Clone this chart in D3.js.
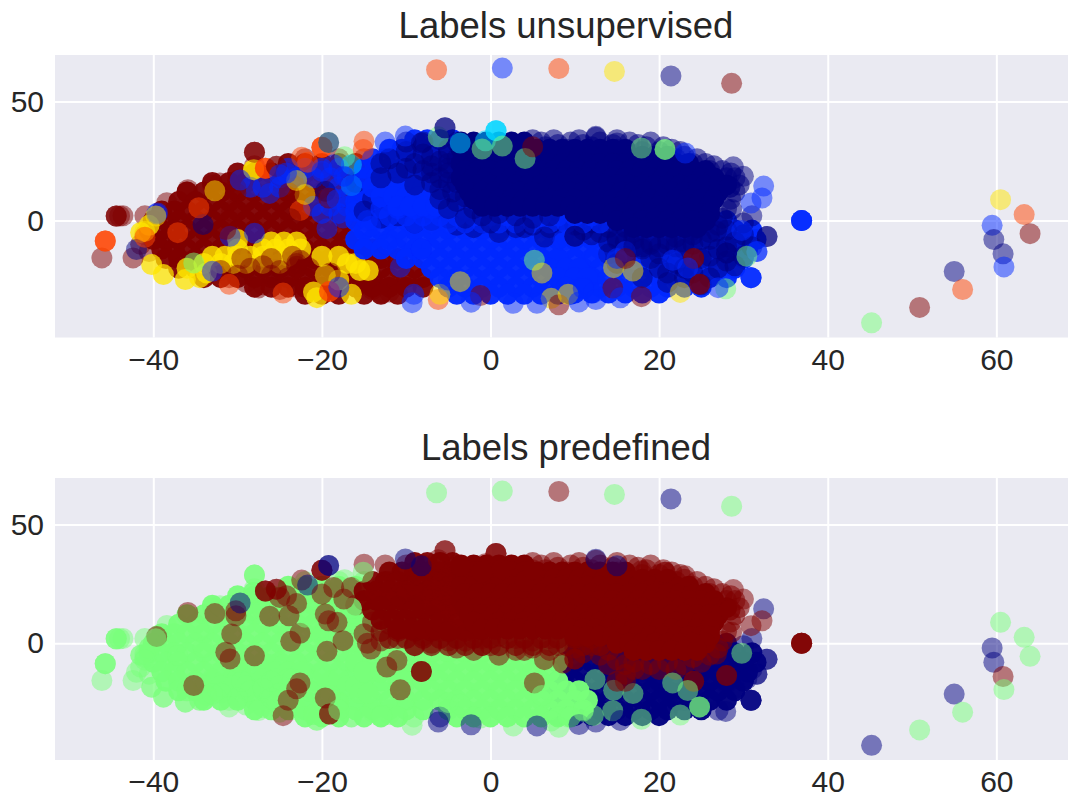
<!DOCTYPE html>
<html>
<head>
<meta charset="utf-8">
<script src="https://cdn.jsdelivr.net/npm/d3@7"></script>
<style>
body { margin: 0; background: #fff; }
text { font-family: "Liberation Sans", Arial, sans-serif; fill: #262626; }
</style>
</head>
<body>
<div id="chart"></div>
<script>
const xTicks = [-40, -20, 0, 20, 40, 60];
const yTicks = [0, 50];
const panelTitles = ["Labels unsupervised", "Labels predefined"];

// navy, blue, cyan, mint, yellow, red, maroon
const labelColors = ["#00007f", "#0028ff", "#00d5ff", "#78ff7a", "#ffe500", "#ff4400", "#7f0000"];

// rows of [y, [x, x, ...]], dense parts of the clouds
const maroonRows = [
    [24, [-24, -22, -20, -18, -16]],
    [20, [-30, -28, -26, -24, -22, -20, -18, -16]],
    [16, [-33, -31, -29, -27, -25, -23, -21, -19, -17, -15]],
    [12, [-36, -34, -32, -30, -28, -26, -24, -22, -20, -18, -16]],
    [8, [-37, -35, -33, -31, -29, -27, -25, -23, -21, -19, -17]],
    [4, [-39, -37.5, -36, -34, -32, -30, -28, -26, -24, -22, -20, -18]],
    [0, [-40, -38.5, -37, -35, -33, -31, -29, -27, -25, -23, -21, -19, -17]],
    [-4, [-40.5, -39, -37.5, -36, -34, -32, -30, -28, -26, -24, -22, -20, -18]],
    [-8, [-40, -38.5, -37, -35, -33, -31, -29, -27, -25, -23, -21, -19, -17]],
    [-12, [-39, -37.5, -36, -34, -32, -30, -28, -26, -24, -22, -20, -18, -16, -14]],
    [-16, [-38.5, -37, -35, -33, -31, -29, -27, -25, -23, -21, -19, -17, -15, -13, -11]],
    [-20, [-37, -35, -33, -31, -29, -27, -25, -23, -21, -19, -17, -15, -13, -11, -9]],
    [-24, [-34, -32, -30, -28, -26, -24, -22, -20, -18, -16, -14, -12, -10, -8]],
    [-28, [-28, -26, -24, -22, -20, -18, -16, -14, -12, -10, -8]],
    [-31, [-22, -20, -18, -15, -13, -11]]
];
const yellowRows = [
    [-9, [-26, -24.5, -23]],
    [-12, [-30, -27, -25.5, -24, -22.5]],
    [-15, [-33, -31.5, -30, -28.5, -27, -25.5, -24, -20, -18]],
    [-18, [-34, -32, -30.5, -29, -27, -25, -17, -16]],
    [-21, [-15.5, -14.5]]
];
const yellowEdge = [
    [-40.2, -18.5], [-38.8, -22.7], [-36.2, -24.8], [-33.7, -22], [-41.5, -5], [-40.5, -2], [-36, -20], [-34.5, -24],
    [-28.1, 21.4], [-20.6, -32.4], [-16.5, -31], [-21, -30], [-18, -25], [-30, -8]
];
// brown patches over the yellow strip
const yellowOverlay = [
    [-28.5, -20], [-27, -19], [-26, -23], [-25, -21], [-23, -18], [-23.5, -15], [-30, -23], [-32, -21], [-21.5, -20],
    [-19, -22], [-26, -16], [-29.5, -16]
];
const upperBlueRows = [
    [22, [-24, -22, -20, -18]],
    [18, [-25, -23, -21, -19, -17]],
    [14, [-28.5, -27, -25, -18, -16]],
    [10, [-19, -17]],
    [6, [-21, -19, -17]],
    [3, [-20, -18]]
];
const midRightRows = [
    [0, [10, 13, 16, 19, 22, 25, 28]],
    [-4, [9, 11, 13, 15, 17, 19, 21, 23, 25, 27, 29, 31]],
    [-8, [8, 10, 12, 14, 16, 18, 20, 22, 24, 26, 28, 30, 31.5]],
    [-12, [9, 11, 13, 15, 17, 19, 21, 23, 25, 27, 29, 30.5]],
    [-16, [8, 10, 12, 14, 16, 18, 20, 22, 24, 26, 28, 30]],
    [-20, [7, 9, 11, 13, 15, 17, 19, 21, 23, 25, 27, 29]],
    [-24, [8, 10, 12, 14, 16, 18, 20, 22, 24, 26, 28]],
    [-28, [9, 11, 13, 15, 17, 19, 21, 23, 25]],
    [-30.5, [8, 10, 12, 14, 16, 18, 20]]
];
const midLeftRows = [
    [16, [-13, -11, -9]],
    [12, [-15, -13, -11, -9, -7]],
    [8, [-16, -14, -12, -10, -8, -6]],
    [4, [-16, -14.5, -13, -11, -9, -7, -5, -3]],
    [0, [-16, -14, -12, -10, -8, -6, -4, -2, 0, 2, 4, 6, 8]],
    [-4, [-15, -13, -11, -9, -7, -5, -3, -1, 1, 3, 5, 7]],
    [-8, [-16, -14, -12, -10, -8, -6, -4, -2, 0, 2, 4, 6, 8]],
    [-12, [-15, -13, -11, -9, -7, -5, -3, -1, 1, 3, 5, 7]],
    [-16, [-10, -8, -6, -4, -2, 0, 2, 4, 6, 8]],
    [-20, [-7, -5, -3, -1, 1, 3, 5, 7, 9, 10.5]],
    [-24, [-6, -4, -2, 0, 2, 4, 6, 8, 10, 11.5]],
    [-28, [-5, -3, -1, 1, 3, 5, 7, 9, 11]],
    [-31, [-4, -2, 0, 2, 4, 6, 8, 9.5]]
];
const bandLeftRows = [
    [34, [-9, -7.5, -6, -4.5]],
    [30, [-12, -10.5, -9, -7.5, -6, -4.5]],
    [26, [-14, -12.5, -11, -9.5, -8, -6, -4.5]],
    [22, [-15, -13.5, -12, -10.5, -9, -7.5, -6, -4.5]],
    [18, [-15, -13.5, -12, -10.5, -9, -7.5, -6, -4.5]],
    [14, [-14, -12.5, -11, -9.5, -8, -6.5, -5]],
    [10, [-13, -11.5, -10, -8.5, -7, -5.5, -4]],
    [6, [-11, -9.5, -8, -6.5, -5, -3.5, -2]]
];
const bandMainRows = [
    [33, [-3.5, -2, -0.5, 1, 2.5, 4]],
    [30, [-3.5, -2, -0.5, 1, 2.5, 4, 5.5, 7, 8.5, 10, 11.5, 13, 14.5, 16]],
    [27, [-3, -1.5, 0, 1.5, 3, 4.5, 6, 7.5, 9, 10.5, 12, 13.5, 15, 16.5, 18, 19.5, 21]],
    [24, [-3.5, -2, -0.5, 1, 2.5, 4, 5.5, 7, 8.5, 10, 11.5, 13, 14.5, 16, 17.5, 19, 20.5, 22, 23.5]],
    [21, [-3, -1.5, 0, 1.5, 3, 4.5, 6, 7.5, 9, 10.5, 12, 13.5, 15, 16.5, 18, 19.5, 21, 22.5, 24, 25.5]],
    [18, [-3.5, -2, -0.5, 1, 2.5, 4, 5.5, 7, 8.5, 10, 11.5, 13, 14.5, 16, 17.5, 19, 20.5, 22, 23.5, 25, 26.5]],
    [15, [-3, -1.5, 0, 1.5, 3, 4.5, 6, 7.5, 9, 10.5, 12, 13.5, 15, 16.5, 18, 19.5, 21, 22.5, 24, 25.5, 27, 28]],
    [12, [-2.5, -1, 0.5, 2, 3.5, 5, 6.5, 8, 9.5, 11, 12.5, 14, 15.5, 17, 18.5, 20, 21.5, 23, 24.5, 26, 27]],
    [9, [-2, -0.5, 1, 2.5, 4, 5.5, 7, 8.5, 10, 11.5, 13, 14.5, 16, 17.5, 19, 20.5, 22, 23.5, 25, 26.5]],
    [6, [-1, 0.5, 2, 3.5, 5, 6.5, 8, 9.5, 11, 12.5, 14, 15.5, 17, 18.5, 20, 21.5, 23, 24.5, 26]],
    [3, [10, 11.5, 13, 14.5, 16, 17.5, 19, 20.5, 22, 23.5, 25, 26]],
    [0, [15, 16.5, 18, 19.5, 21, 22.5, 24, 25.5]],
    [-3, [17, 18.5, 20, 21.5, 23, 24.5]]
];
const bandTopEdge = [
    [5, 34], [6, 33], [7.5, 34], [8, 32], [9.5, 33], [10.5, 34], [11, 32], [12.5, 35], [13, 33], [14.5, 32], [15, 34], [16.5, 33],
    [17.5, 32], [18.5, 31], [19, 33], [20.5, 31], [21.5, 30], [22.5, 29], [23, 27], [24.5, 26], [25.5, 24], [26.5, 23],
    [27.5, 21], [28.5, 20], [29, 18], [29.5, 15], [29, 12], [28.5, 9], [28, 5], [27.5, 1], [27, -2],
    [6.5, 31], [9, 30], [12, 31], [15, 30], [18, 29], [20, 29], [22, 26], [24, 24], [26, 21], [28, 18]
];
const bandLowerRows = [
    [5, [-13, -11, -9, -7, -5, -3]],
    [2, [-12, -10, -8, -6, -4, -2, 0, 2, 4, 6, 8, 10, 12]],
    [-1, [-9, -7, -5, -3, -1, 1, 3, 5, 7, 9, 11, 13]]
];

// single see-through circles, [x, y]
const midRightNavy = [
    [15, -8], [17, -5], [19, -10], [20, -14], [22, -7], [23, -12], [24, -4], [25, -16], [26, -8], [27, -20], [27, -12],
    [28, -4], [28, -17], [29, -9], [30, -1], [30, -6], [31, 2], [31, -11], [20, -20], [22, -18], [24, -22], [18, -24],
    [21, -26], [16, -3], [14, -14], [12, -6], [19, -1], [25, -1], [23, -24], [26, -24], [29, -19], [15, -18],
    [16, -15], [18, -12], [21, -10], [24, -10], [26, -15], [28, -11], [30, -15], [23, -20], [19, -16], [25, -27], [21, -22]
];
const bandLeftNavy = [
    [-5, 30], [-7, 27], [-8, 33], [-9, 24], [-10, 29], [-11, 20], [-12, 26], [-7, 20], [-5, 22], [-4, 16], [-6, 13],
    [-3, 10], [-9, 15], [-2, 5], [-1, 2], [1, 3], [3, 2], [5, 1], [7, 2], [-3, 1], [0, -1], [4, -3], [-13, 18], [-6, 34],
    [-8, 28], [-6, 25], [-6, 18], [-4, 26], [-10, 22], [-13, 24], [-4, 33], [-10, 33],
    [-5, 28], [-5, 24], [-5, 20], [-5, 16], [-4.5, 12], [-7, 23], [-7, 16], [-8, 21], [-4, 8], [-6, 9], [-5, 5]
];
const bandFringe = [
    [-6, 5], [-8, 3], [-10, 6], [-12, 8], [-14, 9], [-15, 4], [-13, 1], [-11, 2], [-9, -1], [-7, 0], [-5, 1], [-4, -2],
    [-2, -3], [-1, -1], [1, -5], [3, -3], [5, -2], [7, -3], [8, -1], [10, -2], [11, -4], [12, -1], [13, -5], [14, -3],
    [15, -7], [16, -9], [17, -8], [18, -11], [19, -9], [20, -11], [21, -8], [22, -11], [23, -9], [24, -6], [25, -8],
    [26, -5], [-16, 16]
];
const leftEdge = [
    [-41, 2], [-43.6, 2], [-41, -6], [-41.5, -10], [-40.5, -13], [-31, -24], [-29, -26], [-27, -27], [-25, -29], [-23, -28],
    [-14, -29], [-30, 17], [-28, 23], [-26, 20], [-22, 26], [-33, 15], [-36, 12], [-38.4, 7.5], [-15, 26], [-18, 26], [-12, -30]
];

// points that stand alone: [x, y, unsupervised label, predefined label]
const outlierPoints = [
    [-6.4, 63.4, 5, 3], [1.4, 64.1, 1, 3], [8.1, 63.9, 5, 6], [14.7, 62.7, 4, 3], [21.4, 60.8, 0, 0], [28.6, 57.7, 6, 3],
    [45.2, -43, 3, 0], [50.9, -36.5, 6, 3], [55, -21.4, 0, 0], [56, -29, 5, 3], [59.5, -2, 1, 0], [59.7, -8, 0, 0],
    [60.5, 8.8, 4, 3], [60.8, -14, 0, 6], [60.9, -19.5, 1, 3], [63.3, 2.5, 5, 3], [64, -5.5, 6, 3],
    [36.9, 0, 1, 6], [36.9, 0, 1, 6], [36.9, 0, 1, 6], [36.9, 0, 1, 6], [36.9, 0, 1, 6]
];
const detailPoints = [
    [-44.4, 1.9, 6, 3], [-44.4, 1.9, 6, 3], [-44.4, 1.9, 6, 3], [-44, 1.9, 6, 3], [-46.1, -15.7, 6, 3],
    [-45.7, -8.6, 5, 3], [-45.7, -8.6, 5, 3], [-45.7, -8.6, 5, 3], [-39.5, 3.2, 1, 3], [-39.6, 2.8, 1, 6], [-39.7, 1.9, 4, 3],
    [-35.9, 13, 6, 6], [-32.1, 15.8, 6, 3], [-32.7, 12.5, 4, 6], [-30.2, 11.6, 6, 6], [-30.2, 13.7, 6, 6],
    [-28, 28.7, 6, 3], [-28, 28.7, 6, 3], [-28, 28.7, 6, 3], [-28.1, 21.4, 4, 3], [-26.7, 22, 5, 6], [-26.7, 22, 5, 6], [-26.7, 22, 5, 6],
    [-25.4, 22.8, 6, 6], [-25.4, 22.8, 6, 6], [-29.7, 17, 1, 0], [-22.4, 26.6, 5, 6], [-21.7, 24.5, 5, 0],
    [-20, 30.8, 5, 6], [-20, 30.8, 5, 6], [-20, 30.8, 5, 6], [-19.2, 32.8, 3, 0], [-19.2, 32.8, 0, 0], [-17.3, 26.8, 3, 3],
    [-16.5, 23.5, 2, 6], [-16.5, 14.7, 2, 3], [-16.5, 14.7, 1, 3], [-15, 33.3, 5, 6], [-15.1, 29.9, 5, 3],
    [-12.5, 33, 1, 6], [-10.1, 35.5, 1, 0], [-8.2, 32.6, 0, 0], [-6.2, 35.2, 3, 6], [-5.4, 39, 0, 6], [-5.4, 39, 0, 6],
    [-42.4, -15.7, 6, 3], [-42, -12.2, 0, 3], [-41, -4.5, 4, 3], [-41, -7, 5, 3], [-37.1, -5.1, 5, 3],
    [-35.2, -17.8, 3, 6], [-33, -21.3, 1, 3], [-30.9, -6.6, 1, 6], [-28, -5.3, 1, 6], [-34.1, -1.7, 0, 3],
    [-34.6, 5.4, 5, 3], [-22.6, 4.2, 5, 6], [-22, 11, 4, 3], [-26.2, 11.4, 1, 6], [-19.6, 12.3, 0, 6],
    [-30.7, 3.9, 6, 6], [-31.4, -3.8, 6, 6], [-23.9, 11.6, 6, 6], [-23.7, 0.8, 6, 6], [-23, 16.8, 4, 6], [-24.2, 20, 1, 6],
    [-25, 19.3, 1, 6], [-20, 20.7, 1, 6], [-18.6, 23.5, 1, 6], [-17.4, 18.6, 1, 6], [-19.2, 9.5, 6, 6], [-18.2, 8.8, 1, 6],
    [-17.5, 1.1, 1, 6], [-19.4, -3.4, 1, 6], [-12.3, -10, 1, 6], [-11.1, -7.3, 1, 6], [-14.2, -2.4, 1, 6], [-14.6, 0, 1, 6],
    [-10.7, -19.6, 1, 6], [-22.6, -16.7, 6, 6], [-23, -19.2, 6, 6], [-24, -24, 6, 6], [-19.6, -23, 4, 6],
    [-24.6, -30.5, 5, 6], [-19.1, -29.8, 5, 6], [-19.1, -29.8, 5, 6], [-8.2, -11.9, 1, 6], [-8.2, -11.9, 1, 6], [-8.2, -11.9, 1, 6],
    [-31, -26.8, 5, 3], [-27.5, -28.3, 6, 3], [-18, -28, 1, 3], [-12.9, -30.4, 6, 3], [-9.3, -34.5, 1, 3], [-9.1, -31, 1, 3],
    [-6.2, -33.2, 5, 0], [-6, -31, 4, 0], [-5, -25, 1, 3], [-3.6, -25.7, 4, 3], [-1.2, -31.5, 6, 3], [-2.3, -34.3, 1, 0],
    [0.65, 37.8, 2, 6], [0.65, 37.8, 2, 6], [0.65, 37.8, 2, 6], [-0.6, 33.5, 2, 6], [-3.6, 32.6, 2, 6], [-1, 30.1, 3, 6], [1.4, 31.3, 3, 6],
    [4.1, 26.1, 3, 6], [5, 31, 6, 6], [12.5, 35.4, 0, 0], [15, 32.6, 0, 0], [17.9, 30.5, 3, 6], [20.7, 29.9, 3, 6], [20.7, 29.9, 3, 6],
    [23.1, 28.4, 1, 6], [28.8, 22.6, 0, 6], [30, 18.6, 0, 6], [28.4, 14, 0, 6], [28.4, 14, 0, 6], [32.4, 14.5, 1, 0],
    [32.2, 9.5, 1, 6], [30.9, 7.4, 1, 6], [28.6, 4.6, 0, 6], [26.8, -4.5, 0, 6], [32.8, -6.7, 0, 0], [32.8, -6.7, 0, 0],
    [31.6, -13, 1, 0], [31.6, -13, 1, 0], [29.8, -4.2, 1, 3], [30.4, -15, 3, 0], [30.9, -24, 1, 0], [30.9, -24, 1, 0], [30.9, -24, 1, 0], [30.9, -24, 1, 0],
    [27.9, -28.7, 3, 0], [27, -28.2, 1, 0], [24.8, -26.8, 6, 3], [24.8, -26.8, 6, 3], [22.5, -30.2, 4, 3], [17.9, -32, 6, 3],
    [14.5, -28.4, 6, 3], [14.6, -19.8, 4, 3], [16.9, -21.2, 4, 3], [12.4, -15.3, 1, 3], [5.2, -16.7, 3, 6],
    [6.1, -22, 4, 3], [7.2, -32.7, 4, 3], [8.1, -35.4, 6, 3], [9.2, -31, 4, 3], [2.7, -34.8, 1, 3], [5.5, -34.8, 1, 0],
    [10.5, -34.2, 1, 0], [12.5, -33.2, 1, 0], [15.4, -32.5, 1, 0], [24.1, -16, 6, 6], [24.1, -16, 6, 6], [28, -13.6, 0, 6],
    [28, -13.6, 0, 6], [21.6, -16.7, 1, 3], [23.4, -19.9, 1, 3], [6.4, -6.9, 0, 6], [8.6, -8.3, 1, 6], [10, -6.6, 0, 6], [10, -6.6, 0, 6],
    [12.2, -30.4, 1, 3], [11, -28.6, 1, 3], [14, -9, 0, 6], [16, -13, 1, 6], [17, -11, 0, 6], [15, -16, 1, 6], [16, -16, 6, 6]
];

function fromRows(rows) {
    return rows.flatMap(([y, xs]) => xs.map(x => [x, y]));
}

// drawn in this order in both panels, later layers sit on top
const layers = [
    { points: leftEdge, unsup: 6, pre: 3, alpha: 0.5 },
    { points: fromRows(maroonRows), unsup: 6, pre: 3, alpha: 0.95 },
    { points: fromRows(yellowRows), unsup: 4, pre: 3, alpha: 0.8 },
    { points: yellowEdge, unsup: 4, pre: 3, alpha: 0.75 },
    { points: yellowOverlay, unsup: 6, pre: 3, alpha: 0.45 },
    { points: fromRows(upperBlueRows), unsup: 1, pre: 3, alpha: 0.6 },
    { points: fromRows(midRightRows), unsup: 1, pre: 0, alpha: 0.97 },
    { points: midRightNavy, unsup: 0, pre: 0, alpha: 0.5 },
    { points: fromRows(midLeftRows), unsup: 1, pre: 3, alpha: 0.97 },
    { points: bandFringe, unsup: 0, pre: 6, alpha: 0.5 },
    { points: fromRows(bandLowerRows), unsup: 1, pre: 6, alpha: 0.7 },
    { points: fromRows(bandLeftRows), unsup: 1, pre: 6, alpha: 0.95 },
    { points: bandLeftNavy, unsup: 0, pre: 6, alpha: 0.5 },
    { points: bandTopEdge, unsup: 0, pre: 6, alpha: 0.55 },
    { points: fromRows(bandMainRows), unsup: 0, pre: 6, alpha: 1 }
];

const width = 1068, height = 793;
const marginLeft = 55, marginRight = 0;
const radius = 10.5;

const svg = d3.select("#chart").append("svg")
    .attr("width", width)
    .attr("height", height)
    .style("display", "block");

const x = d3.scaleLinear().domain([-51.66, 68.5]).range([marginLeft, width - marginRight]);

function drawPanel(top, bottom, titleText, titleY, labelKey, labelIdx) {
    const y = d3.scaleLinear().domain([-49.16, 69.6]).range([bottom, top]);
    const clipId = "clip" + labelIdx;

    svg.append("clipPath").attr("id", clipId)
        .append("rect")
        .attr("x", marginLeft).attr("y", top)
        .attr("width", width - marginLeft - marginRight).attr("height", bottom - top);

    svg.append("rect")
        .attr("x", marginLeft).attr("y", top)
        .attr("width", width - marginLeft - marginRight).attr("height", bottom - top)
        .attr("fill", "#eaeaf2");

    const xAxis = svg.append("g")
        .attr("transform", `translate(0,${bottom})`)
        .call(d3.axisBottom(x).tickValues(xTicks).tickSize(-(bottom - top)).tickPadding(11));
    const yAxis = svg.append("g")
        .attr("transform", `translate(${marginLeft},0)`)
        .call(d3.axisLeft(y).tickValues(yTicks).tickSize(-(width - marginLeft - marginRight)).tickPadding(11));

    [xAxis, yAxis].forEach(axis => {
        axis.select(".domain").remove();
        axis.selectAll("line").attr("stroke", "#fff").attr("stroke-width", 2);
        axis.selectAll("text").attr("font-size", 30).style("font-family", '"Liberation Sans", Arial, sans-serif');
    });

    const plot = svg.append("g").attr("clip-path", `url(#${clipId})`);

    layers.forEach(layer => {
        plot.append("g")
            .selectAll("circle")
            .data(layer.points)
            .join("circle")
            .attr("cx", d => x(d[0]))
            .attr("cy", d => y(d[1]))
            .attr("r", radius)
            .attr("fill", labelColors[layer[labelKey]])
            .attr("fill-opacity", layer.alpha);
    });

    plot.append("g")
        .selectAll("circle")
        .data(detailPoints.concat(outlierPoints))
        .join("circle")
        .attr("cx", d => x(d[0]))
        .attr("cy", d => y(d[1]))
        .attr("r", radius)
        .attr("fill", d => labelColors[d[labelIdx]])
        .attr("fill-opacity", 0.5);

    svg.append("text")
        .attr("x", 566)
        .attr("y", titleY)
        .attr("text-anchor", "middle")
        .attr("font-size", 36.5)
        .text(titleText);
}

drawPanel(55, 337.5, panelTitles[0], 38, "unsup", 2);
drawPanel(478, 760, panelTitles[1], 460, "pre", 3);
</script>
</body>
</html>
